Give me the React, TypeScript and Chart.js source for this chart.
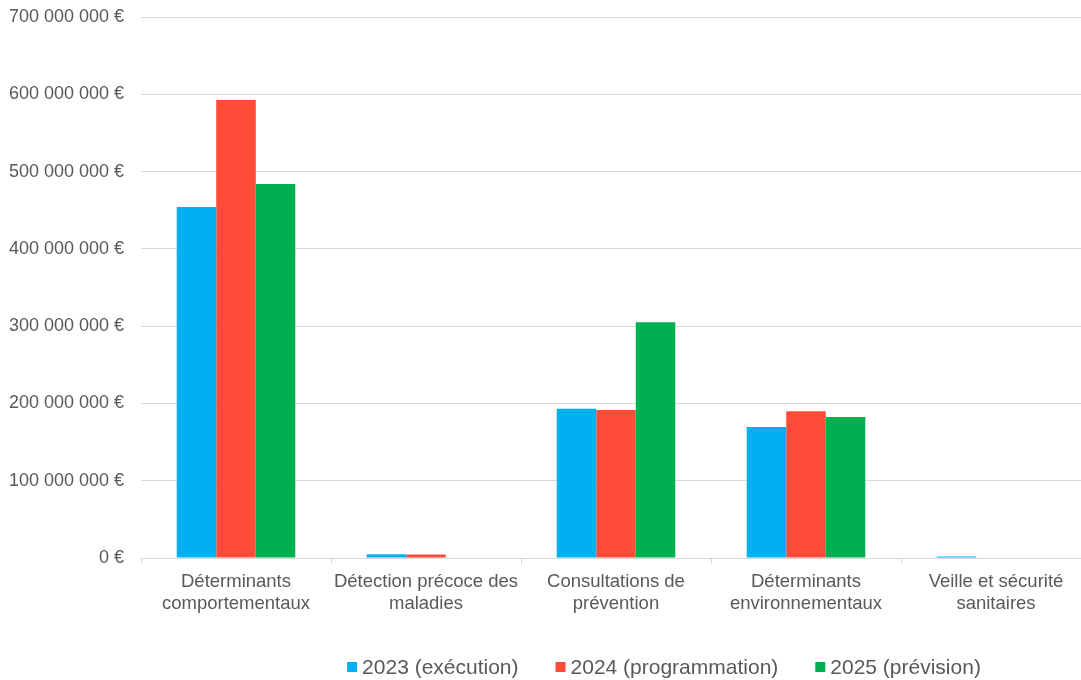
import React, { useEffect, useRef } from "react";
import { Chart, registerables } from "chart.js";

Chart.register(...registerables);

const categories: string[][] = [
  ["Déterminants", "comportementaux"],
  ["Détection précoce des", "maladies"],
  ["Consultations de", "prévention"],
  ["Déterminants", "environnementaux"],
  ["Veille et sécurité", "sanitaires"],
];

const seriesNames = ["2023 (exécution)", "2024 (programmation)", "2025 (prévision)"];
const seriesColors = ["#00B0F0", "#FF4B37", "#00B050"];

const values2023 = [454000000, 5000000, 193000000, 169500000, 2000000];
const values2024 = [592500000, 4500000, 191500000, 190000000, 800000];
const values2025 = [484000000, 0, 305000000, 182500000, 800000];

const yMax = 700000000;
const yStep = 100000000;

const fmt = (v: number) => {
  const s = Math.round(v).toString().replace(/\B(?=(\d{3})+(?!\d))/g, " ");
  return s + " €";
};

const TEXT = "#595959";
const FONT = "'Liberation Sans', Arial, sans-serif";

const legendPlugin = {
  id: "customLegend",
  afterDraw(chart: any) {
    const ctx = chart.ctx;
    ctx.save();
    ctx.font = `21px ${FONT}`;
    ctx.textBaseline = "middle";
    ctx.textAlign = "left";
    const box = 10;
    const gapBoxText = 5;
    const gapItems = 37;
    const ds = chart.data.datasets;
    const widths = ds.map((d: any) => box + gapBoxText + ctx.measureText(d.label).width);
    const total = widths.reduce((a: number, b: number) => a + b, 0) + gapItems * (ds.length - 1);
    let x = 664 - total / 2;
    const y = 667;
    ds.forEach((d: any, i: number) => {
      ctx.fillStyle = d.backgroundColor;
      ctx.fillRect(x, y - box / 2, box, box);
      ctx.fillStyle = TEXT;
      ctx.fillText(d.label, x + box + gapBoxText, y + 1);
      x += widths[i] + gapItems;
    });
    ctx.restore();
  },
};

export default function App() {
  const ref = useRef<HTMLCanvasElement | null>(null);
  useEffect(() => {
    if (!ref.current) return;
    const allValues = [values2023, values2024, values2025];
    const chart = new Chart(ref.current, {
      type: "bar",
      data: {
        labels: categories,
        datasets: seriesNames.map((name, i) => ({
          label: name,
          data: allValues[i],
          backgroundColor: seriesColors[i],
          borderWidth: 0,
          barPercentage: 1,
          categoryPercentage: 0.624,
        })),
      },
      options: {
        responsive: false,
        animation: false,
        layout: { padding: { top: 17, right: 9, left: 0, bottom: 0 } },
        plugins: {
          legend: { display: false },
          tooltip: { enabled: false },
        },
        scales: {
          x: {
            grid: {
              display: true,
              drawOnChartArea: false,
              drawTicks: true,
              tickLength: 6,
              color: "#D9D9D9",
              lineWidth: 1,
            },
            border: { display: true, color: "#D9D9D9" },
            ticks: {
              color: TEXT,
              font: { family: FONT, size: 18.5, lineHeight: 1.2 },
              padding: 7,
              maxRotation: 0,
              autoSkip: false,
            },
            afterFit: (scale: any) => {
              scale.height = 122;
              scale.paddingLeft = 0;
              scale.paddingRight = 0;
            },
          },
          y: {
            min: 0,
            max: yMax,
            grid: {
              color: "#D9D9D9",
              lineWidth: 1,
              drawTicks: false,
            },
            border: { display: false },
            ticks: {
              stepSize: yStep,
              color: TEXT,
              font: { family: FONT, size: 18 },
              padding: 17,
              callback: (v: any) => fmt(Number(v)),
            },
            afterFit: (scale: any) => {
              scale.width = 141;
              scale.paddingTop = 0;
              scale.paddingBottom = 0;
            },
          },
        },
      },
      plugins: [legendPlugin],
    });
    return () => chart.destroy();
  }, []);
  return (
    <div
      style={{
        position: "fixed",
        left: 0,
        top: 0,
        width: 1081,
        height: 680,
        overflow: "hidden",
        background: "#fff",
      }}
    >
      <canvas ref={ref} width={1100} height={680} style={{ display: "block" }} />
    </div>
  );
}
